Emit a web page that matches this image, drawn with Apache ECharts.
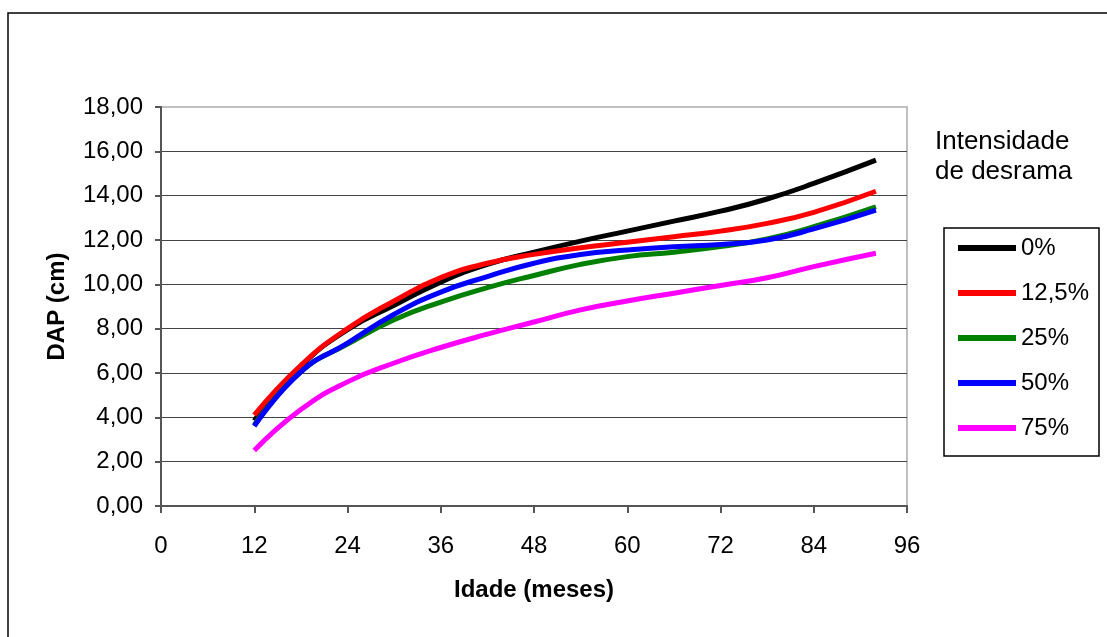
<!DOCTYPE html>
<html>
<head>
<meta charset="utf-8">
<script src="https://cdn.jsdelivr.net/npm/echarts@6/dist/echarts.min.js"></script>
<style>html,body{margin:0;padding:0;background:#fff}#c{width:1107px;height:637px}</style>
</head>
<body>
<div id="c"></div>
<script>
var months = [12, 18, 24, 30, 36, 42, 48, 54, 60, 66, 72, 78, 84, 92];
var s0   = [3.85, 6.30, 7.95, 9.05, 10.10, 10.90, 11.45, 11.95, 12.40, 12.85, 13.30, 13.85, 14.55, 15.60];
var s125 = [4.10, 6.35, 8.00, 9.25, 10.30, 10.95, 11.35, 11.65, 11.90, 12.15, 12.40, 12.75, 13.25, 14.20];
var s25  = [3.65, 6.05, 7.30, 8.40, 9.20, 9.85, 10.40, 10.90, 11.25, 11.45, 11.70, 12.05, 12.60, 13.50];
var s50  = [3.60, 6.05, 7.35, 8.65, 9.65, 10.35, 10.95, 11.35, 11.55, 11.70, 11.80, 12.00, 12.50, 13.35];
var s75  = [2.50, 4.35, 5.60, 6.45, 7.15, 7.75, 8.30, 8.85, 9.25, 9.60, 9.95, 10.30, 10.80, 11.40];
var seriesNames = ['0%', '12,5%', '25%', '50%', '75%'];
var seriesColors = ['#000000', '#ff0000', '#008000', '#0000ff', '#ff00ff'];
var seriesValues = [s0, s125, s25, s50, s75];

function pairs(vals) { return months.map(function (m, i) { return [m, vals[i]]; }); }

var chart = echarts.init(document.getElementById('c'), null, {renderer: 'canvas'});
var font = 'Liberation Sans, Arial, sans-serif';
chart.setOption({
  animation: false,
  backgroundColor: '#ffffff',
  grid: {left: 161, top: 107, right: 200, bottom: 131, show: true, borderColor: '#c0c0c0', borderWidth: 2, backgroundColor: 'transparent'},
  xAxis: {
    type: 'value', min: 0, max: 96, interval: 12,
    name: 'Idade (meses)', nameLocation: 'middle', nameGap: 72,
    nameTextStyle: {fontFamily: font, fontSize: 24, fontWeight: 'bold', color: '#000'},
    axisLine: {lineStyle: {color: '#555', width: 2}},
    axisTick: {lineStyle: {color: '#555', width: 2}, length: 7},
    axisLabel: {fontFamily: font, fontSize: 24, color: '#000', margin: 28},
    splitLine: {show: false}
  },
  yAxis: {
    type: 'value', min: 0, max: 18, interval: 2,
    name: 'DAP (cm)', nameLocation: 'middle', nameGap: 92, nameRotate: 90,
    nameTextStyle: {fontFamily: font, fontSize: 24, fontWeight: 'bold', color: '#000'},
    axisLine: {show: true, lineStyle: {color: '#555', width: 2}},
    axisTick: {show: true, lineStyle: {color: '#555', width: 2}, length: 6},
    axisLabel: {fontFamily: font, fontSize: 24, color: '#000', margin: 18,
      formatter: function (v) { return v.toFixed(2).replace('.', ','); }},
    splitLine: {show: true, showMaxLine: false, lineStyle: {color: '#444', width: 1}}
  },
  legend: {
    orient: 'vertical', left: 958, top: 236, itemGap: 21, padding: 0,
    itemWidth: 58, itemHeight: 6, icon: 'rect',
    textStyle: {fontFamily: font, fontSize: 24, color: '#000'},
    data: seriesNames
  },
  graphic: [
    {type: 'rect', shape: {x: 8, y: 13, width: 1300, height: 800}, style: {fill: 'none', stroke: '#000', lineWidth: 1.5}, silent: true, z: -1},
    {type: 'rect', shape: {x: 944, y: 228, width: 155, height: 228}, style: {fill: 'none', stroke: '#000', lineWidth: 1.5}, silent: true},
    {type: 'text', left: 935, top: 127, style: {text: 'Intensidade\nde desrama', font: '26px ' + font, fill: '#000', lineHeight: 30}}
  ],
  series: seriesNames.map(function (n, i) {
    return {
      name: n, type: 'line', data: pairs(seriesValues[i]),
      smooth: 0.5, showSymbol: false, symbol: 'none',
      lineStyle: {color: seriesColors[i], width: 5}, itemStyle: {color: seriesColors[i]}
    };
  })
});
</script>
</body>
</html>
